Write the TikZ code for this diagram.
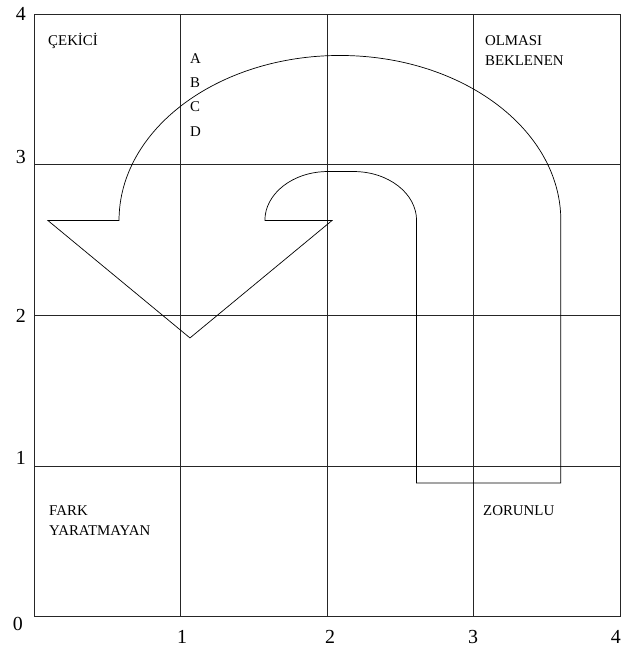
\documentclass[tikz,border=0pt]{standalone}
\usepackage{fontspec}
\setmainfont{Liberation Serif}

\begin{document}
\begin{tikzpicture}[x=4.398cm,y=4.5225cm,
  lab/.style={anchor=west,inner sep=0pt,align=left,font=\fontsize{12.7}{17}\selectfont},
  num/.style={inner sep=0pt,font=\fontsize{17}{17}\selectfont}]
\useasboundingbox (-0.232,-0.206) rectangle (4.079,4.093);
% grid
\draw[line width=0.8pt,black!85] (0,0) rectangle (4,4);
\foreach \k in {1,2,3} {
  \draw[line width=0.8pt,black!85] (\k,0) -- (\k,4);
  \draw[line width=0.8pt,black!85] (0,\k) -- (4,\k);
}
% u-turn arrow
\draw[line width=0.6pt] (0.095,2.63) -- (0.58,2.63)
  arc[start angle=180,end angle=0,x radius=1.507,y radius=1.095]
  -- (3.594,0.889) -- (2.61,0.889) -- (2.61,2.63)
  arc[start angle=0,end angle=90,x radius=0.43,y radius=0.325]
  -- (2.005,2.955)
  arc[start angle=90,end angle=180,x radius=0.43,y radius=0.325]
  -- (2.033,2.63) -- (1.064,1.851) -- cycle;
% quadrant labels
\node[lab] (cekici) at (0.0955,3.821) {ÇEKİCİ};
\foreach \l/\y in {A/3.701,B/3.542,C/3.383,D/3.217}
  \node[lab] (opt\l) at (1.064,\y) {\l};
\node[lab] (olmasi) at (3.076,3.758) {OLMASI\\BEKLENEN};
\node[lab] (fark) at (0.102,0.640) {FARK\\YARATMAYAN};
\node[lab] (zorunlu) at (3.063,0.703) {ZORUNLU};
% axis numbers
\foreach \n/\y in {4/4.0,3/3.05,2/2.0,1/1.055}
  \node[num] (yl\n) at (-0.089,\y) {\n};
\node[num] (yl0) at (-0.11,-0.046) {0};
\foreach \n/\x in {1/1.01,2/2.02,3/2.995,4/3.97}
  \node[num] (xl\n) at (\x,-0.133) {\n};
\end{tikzpicture}
\end{document}
